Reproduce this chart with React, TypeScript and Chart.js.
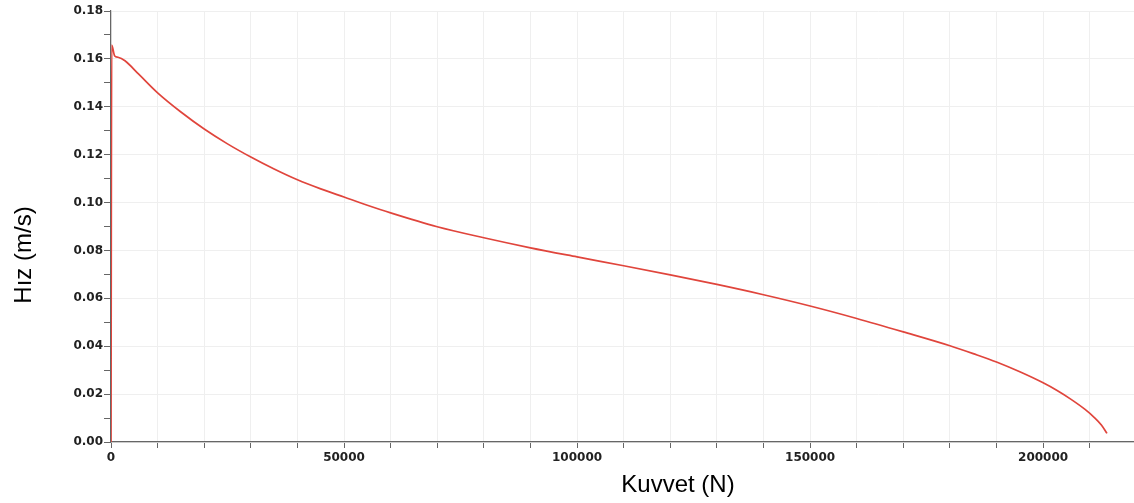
import React, { useEffect, useRef } from "react";
import { Chart, registerables } from "chart.js";

Chart.register(...registerables);

const forceN: number[] = [
  0, 150, 800, 1500, 3000, 6000, 10000, 15000, 20000, 25000, 30000, 35000, 40000,
  45000, 50000, 55000, 60000, 70000, 80000, 90000, 100000, 110000, 120000, 130000,
  140000, 150000, 160000, 170000, 180000, 185000, 190000, 195000, 200000, 203000,
  206000, 209000, 211000, 212500, 213700,
];
const speed: number[] = [
  0, 0.1658, 0.1612, 0.1607, 0.1592, 0.1535, 0.1458, 0.1378, 0.1307, 0.1245,
  0.119, 0.114, 0.1095, 0.1057, 0.1023, 0.0989, 0.0957, 0.0899, 0.0853, 0.0811,
  0.0773, 0.0736, 0.0698, 0.0658, 0.0615, 0.0568, 0.0516, 0.046, 0.0402, 0.0369,
  0.0334, 0.0293, 0.0247, 0.0215, 0.0178, 0.0136, 0.0102, 0.0071, 0.0036,
];

const xTitle = "Kuvvet (N)";
const yTitle = "Hız (m/s)";
const xMin = 0;
const xMax = 219500;
const xStep = 10000;
const xLabelEvery = 50000;
const yMin = 0;
const yMax = 0.18;
const yStep = 0.01;

const titlePlugin = {
  id: "offsetTitles",
  afterDraw(chart: any) {
    const ctx = chart.ctx;
    ctx.save();
    ctx.fillStyle = "#000";
    ctx.font = "24px 'Liberation Sans', Arial, sans-serif";
    ctx.textAlign = "center";
    ctx.textBaseline = "alphabetic";
    ctx.fillText(xTitle, 678, 492);
    ctx.translate(31, 255);
    ctx.rotate(-Math.PI / 2);
    ctx.fillText(yTitle, 0, 0);
    ctx.restore();
  },
};

export default function App() {
  const ref = useRef<HTMLCanvasElement | null>(null);
  useEffect(() => {
    if (!ref.current) return;
    const tickFont = { family: "'DejaVu Sans', sans-serif", size: 12, weight: "bold" as const };
    const chart = new Chart(ref.current, {
      type: "line",
      data: {
        datasets: [
          {
            data: forceN.map((f, i) => ({ x: f, y: speed[i] })),
            borderColor: "#e0453c",
            borderWidth: 1.7,
            pointRadius: 0,
            cubicInterpolationMode: "monotone",
            fill: false,
          },
        ],
      },
      options: {
        animation: false,
        responsive: false,
        maintainAspectRatio: false,
        layout: { padding: { left: 0, top: 11, right: 0, bottom: 0 } },
        plugins: { legend: { display: false }, tooltip: { enabled: false } },
        scales: {
          x: {
            type: "linear",
            min: xMin,
            max: xMax,
            afterBuildTicks: (s: any) => {
              const t: any[] = [];
              for (let v = xMin; v <= xMax; v += xStep) t.push({ value: v });
              s.ticks = t;
            },
            afterFit: (s: any) => {
              s.height = 61;
            },
            ticks: {
              autoSkip: false,
              maxRotation: 0,
              minRotation: 0,
              padding: 3,
              color: "#222",
              font: tickFont,
              callback: (v: any) => {
                const n = Math.round(Number(v));
                return n % xLabelEvery === 0 ? String(n) : "";
              },
            },
            grid: {
              color: "#efefef",
              tickColor: "#666",
              tickLength: 6,
              lineWidth: 1,
            },
            border: { display: true, color: "#666", width: 1.2 },
          },
          y: {
            type: "linear",
            min: yMin,
            max: yMax,
            afterBuildTicks: (s: any) => {
              const t: any[] = [];
              for (let k = 0; k <= Math.round(yMax / yStep); k++) t.push({ value: +(k * yStep).toFixed(2) });
              s.ticks = t;
            },
            afterFit: (s: any) => {
              s.width = 111;
            },
            ticks: {
              autoSkip: false,
              padding: 1,
              color: "#222",
              font: tickFont,
              callback: (v: any) => {
                const k = Math.round(Number(v) * 100);
                return k % 2 === 0 ? (k / 100).toFixed(2) : "";
              },
            },
            grid: {
              color: (c: any) => {
                const k = Math.round((c.tick?.value ?? 0) * 100);
                return k % 2 === 0 ? "#efefef" : "rgba(0,0,0,0)";
              },
              tickColor: "#666",
              tickLength: 7,
              lineWidth: 1,
            },
            border: { display: true, color: "#666", width: 1.2 },
          },
        },
      },
      plugins: [titlePlugin],
    });
    return () => chart.destroy();
  }, []);
  return (
    <div style={{ position: "fixed", left: 0, top: 0, width: 1134, height: 503, background: "#fff" }}>
      <canvas ref={ref} width={1134} height={503} style={{ display: "block" }} />
    </div>
  );
}
